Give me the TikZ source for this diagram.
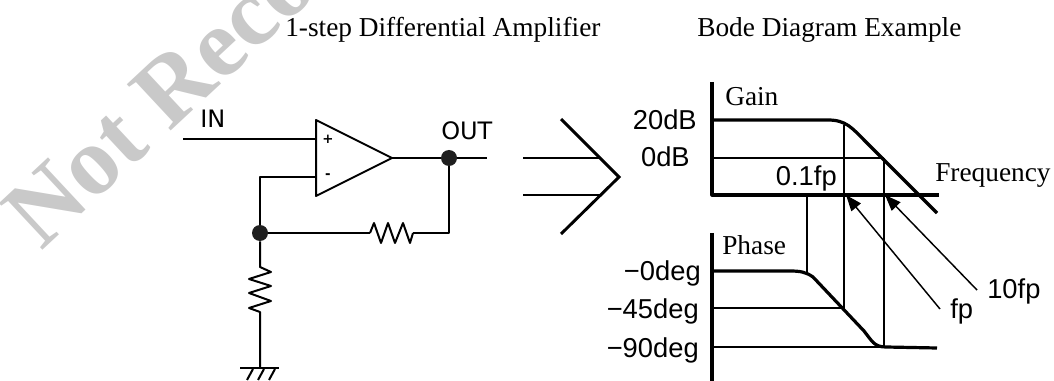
\documentclass[tikz,border=0pt]{standalone}
\usepackage{fontspec}
\setmainfont{Liberation Serif}
\newfontfamily\gothic{Liberation Sans}
\newfontfamily\tahoma{DejaVu Sans}
\usetikzlibrary{arrows.meta}

\begin{document}
\begin{tikzpicture}[x=0.75pt, y=-0.75pt,
  wire/.style={line width=1.5pt, line join=round},
  chev/.style={line width=2.2pt},
  curve/.style={line width=2.4pt, line join=round},
  guide/.style={line width=1.1pt},
  dot/.style={shape=circle, fill=black!88, inner sep=0pt, minimum size=12pt},
  lbl/.style={inner sep=0pt, font=\gothic\fontsize{20.5}{24}\selectfont},
  tlbl/.style={inner sep=0pt, font=\fontsize{20.5}{24}\selectfont},
  io/.style={inner sep=0pt, font=\tahoma\fontsize{18}{20}\selectfont},
  pin/.style={line width=1.1pt, -{Triangle[length=12pt, width=9pt]}}]
\useasboundingbox (0,0) rectangle (1054,381);
\begin{scope}
\clip (0,0) rectangle (1054,381);
\node[anchor=base west, rotate=43, text=black!21, inner sep=0pt, font=\bfseries\fontsize{73}{80}\selectfont] (mark) at (41,252) {Not Recommended};
\end{scope}

\node[tlbl, anchor=base west] (ttlamp) at (285,37) {1-step Differential Amplifier};
\node[tlbl, anchor=base west] (ttlbode) at (697,37) {Bode Diagram Example};

\coordinate (in) at (183,139);
\coordinate (ptop) at (316,120);
\coordinate (pbot) at (316,196);
\coordinate (tip) at (392,158);
\coordinate (inp) at (316,139);
\coordinate (inm) at (316,177);
\coordinate (outend) at (487,158);
\coordinate (r2a) at (413,233);
\coordinate (r2b) at (370,233);
\coordinate (r1a) at (260,267);
\coordinate (r1b) at (260,312);
\coordinate (gnd) at (260,368);
\coordinate (gndl) at (240,368);
\coordinate (gndr) at (279,368);
\node[dot] (out) at (449,158) {};
\node[dot] (fb) at (260,233) {};
\node[io, anchor=base west] (inlbl) at (200,128) {IN};
\node[io, anchor=base west] (outlbl) at (441,140) {OUT};
\node[inner sep=0pt, font=\tahoma\bfseries\fontsize{10}{12}\selectfont] (plus) at (328,139) {+};
\node[inner sep=0pt, font=\tahoma\bfseries\fontsize{10}{12}\selectfont] (minus) at (328,176) {-};

\draw[wire] (ptop) -- (tip) -- (pbot) -- cycle;
\draw[wire] (in) -- (inp);
\draw[wire] (tip) -- (out) -- (outend);
\draw[wire] (out) |- (r2a);
\draw[wire] (r2a) -- ++(-3,10) -- ++(-7,-20) -- ++(-8,20) -- ++(-7,-20) -- ++(-7,20) -- ++(-7,-20) -- (r2b);
\draw[wire] (r2b) -- (fb);
\draw[wire] (fb) |- (inm);
\draw[wire] (fb) -- (r1a) -- ++(11,5) -- ++(-22,7) -- ++(22,7) -- ++(-22,7) -- ++(22,8) -- ++(-22,7) -- (r1b) -- (gnd);
\draw[wire] (gndl) -- (gndr);
\foreach \x in {253,264,275} \draw[wire] (\x,369) -- ++(-6,11);

\coordinate (ch1) at (561,119);
\coordinate (ch2) at (619,177);
\coordinate (ch3) at (561,234);
\coordinate (sh1) at (523,158);
\coordinate (sh1e) at (600,158);
\coordinate (sh2) at (523,195);
\coordinate (sh2e) at (601,195);
\draw[chev] (ch1) -- (ch2) -- (ch3);
\draw[chev] (sh1) -- (sh1e);
\draw[chev] (sh2) -- (sh2e);

\coordinate (gtop) at (712,82);
\coordinate (gorg) at (712,195);
\coordinate (gend) at (939,195);
\coordinate (g20) at (712,120);
\coordinate (g0) at (712,158);
\coordinate (ptop2) at (712,233);
\coordinate (pbot2) at (712,384);
\coordinate (p0) at (712,271);
\coordinate (p45) at (712,308);
\coordinate (p90) at (712,347);
\draw[curve] (gtop) -- (gorg) -- (gend);
\draw[curve] (ptop2) -- (pbot2);
\draw[curve] (g20) -- (828,120) .. controls (846,120) and (852,128) .. (864,140) -- (937,213);
\draw[curve] (p0) -- (790,271) .. controls (800,271) and (806,272) .. (813,277) -- (864,331) .. controls (872,341) and (874,347) .. (886,347) -- (937,348);
\draw[guide] (g0) -- (884,158);
\draw[guide] (p45) -- (845,308);
\draw[guide] (p90) -- (886,347);
\draw[guide] (844,125) -- (844,308);
\draw[guide] (884,158) -- (884,347);
\draw[guide] (807,195) -- (807,272);

\node[tlbl, anchor=base west] (gain) at (725,106) {Gain};
\node[tlbl, anchor=base west] (phase) at (722,255) {Phase};
\node[tlbl, anchor=base west] (freq) at (935,182) {Frequency};
\node[lbl, anchor=base east] (db20) at (697,130) {20dB};
\node[lbl, anchor=base east] (db0) at (690,167) {0dB};
\node[lbl, anchor=base east] (f01) at (837,186) {0.1fp};
\node[lbl, anchor=base east] (deg0) at (701,281) {−0deg};
\node[lbl, anchor=base east] (deg45) at (699,319) {−45deg};
\node[lbl, anchor=base east] (deg90) at (699,357) {−90deg};
\node[lbl, anchor=base west] (fp) at (950,318) {fp};
\node[lbl, anchor=base west] (fp10) at (987,298) {10fp};

\coordinate (fptail) at (940,309);
\coordinate (fphead) at (846,195);
\coordinate (fp10tail) at (977,290);
\coordinate (fp10head) at (885,195);
\draw[pin] (fptail) -- (fphead);
\draw[pin] (fp10tail) -- (fp10head);
\end{tikzpicture}
\end{document}
